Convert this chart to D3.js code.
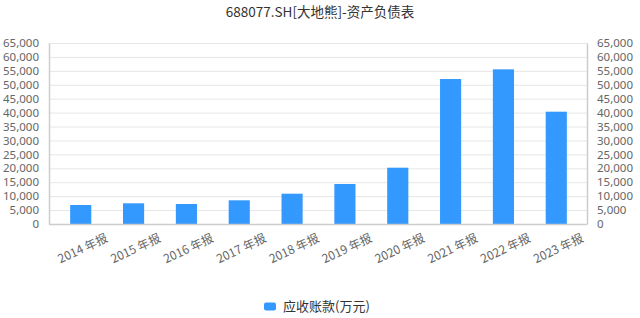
<!DOCTYPE html>
<html><head><meta charset="utf-8">
<script src="https://cdn.jsdelivr.net/npm/d3@7/dist/d3.min.js"></script>
<style>body{margin:0;background:#fff}svg{display:block;font-family:"Microsoft YaHei","Noto Sans CJK SC",sans-serif}</style>
</head><body>
<svg id="c" width="640" height="318"></svg>
<script>
const title = "688077.SH[大地熊]-资产负债表";
const categories = ["2014 年报","2015 年报","2016 年报","2017 年报","2018 年报","2019 年报","2020 年报","2021 年报","2022 年报","2023 年报"];
const values = [6820, 7430, 7180, 8510, 10880, 14360, 20220, 52060, 55540, 40330];
const seriesName = "应收账款(万元)";
const yTicks = d3.range(0, 65001, 5000);

const svg = d3.select("#c");
const L = 49, R = 587, T = 43, B = 224;
const x = d3.scaleBand().domain(categories).range([54.3, 582.7]).paddingInner(0.6).paddingOuter(0.3);
const y = d3.scaleLinear().domain([0, 65000]).range([B, T]);

svg.append("text").attr("x", 320).attr("y", 17).attr("text-anchor", "middle")
  .attr("font-size", 13.5).attr("fill", "#333").text(title);

// grid
svg.append("g").selectAll("line").data(yTicks).join("line")
  .attr("x1", L).attr("x2", R).attr("y1", d => y(d)+0.5).attr("y2", d => y(d)+0.5)
  .attr("stroke", "#e6e6e6");

const fmt = d3.format(",");
const gl = svg.append("g").attr("transform", `translate(${L},0)`)
  .call(d3.axisLeft(y).tickValues(yTicks).tickFormat(fmt).tickSize(0).tickPadding(10));
const gr = svg.append("g").attr("transform", `translate(${R},0)`)
  .call(d3.axisRight(y).tickValues(yTicks).tickFormat(fmt).tickSize(0).tickPadding(10));
[gl, gr].forEach(g => {
  g.select(".domain").attr("stroke", "#ccc").attr("stroke-width", 1.5);
  g.selectAll("text").attr("font-size", 11.5).attr("fill", "#666").attr("font-family", "'Noto Sans','Open Sans',sans-serif");
});

// bars
svg.append("g").selectAll("rect").data(values).join("rect")
  .attr("x", (d,i) => x(categories[i])).attr("width", x.bandwidth())
  .attr("y", d => y(d)).attr("height", d => B - y(d))
  .attr("fill", "#3399ff");

// bottom axis
const gb = svg.append("g");
gb.append("line").attr("x1", L).attr("x2", R).attr("y1", B+0.5).attr("y2", B+0.5).attr("stroke", "#ccc").attr("stroke-width", 1.5);
gb.selectAll("text").data(categories).join("text")
  .attr("transform", d => `translate(${x(d) + x.bandwidth()/2 + 28},${B + 17}) rotate(-25)`)
  .attr("text-anchor", "end")
  .attr("font-size", 12).attr("fill", "#666").text(d => d);

// legend
const lg = svg.append("g");
lg.append("rect").attr("x", 264).attr("y", 302.5).attr("width", 12).attr("height", 8).attr("rx", 2).attr("fill", "#3399ff");
lg.append("text").attr("x", 283).attr("y", 311).attr("font-size", 13).attr("fill", "#333").text(seriesName);
</script>
</body></html>
